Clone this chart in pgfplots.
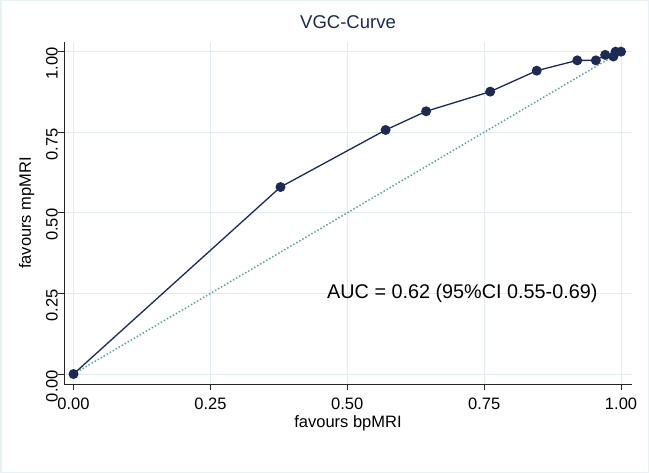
\documentclass[border=0pt]{standalone}
\usepackage{fontspec}
\setmainfont{Liberation Sans}
\usepackage{pgfplots}
\pgfplotsset{compat=1.18}
\definecolor{navyd}{RGB}{28,42,84}
\definecolor{gridc}{RGB}{226,236,240}
\definecolor{framec}{RGB}{232,241,244}
\definecolor{diagc}{RGB}{100,160,160}
\begin{document}
\begin{tikzpicture}
\useasboundingbox (0,0) rectangle (649bp,473bp);
\fill[white] (0,0) rectangle (649bp,473bp);
\draw[framec, line width=1.5bp] (0.75bp,0.75bp) rectangle (648.25bp,472.25bp);
\begin{axis}[
  at={(64bp,89bp)}, anchor=south west,
  scale only axis, width=568bp, height=342bp,
  xmin=-0.0174, xmax=1.020, ymin=-0.031, ymax=1.03,
  axis x line*=bottom, axis y line*=left,
  x axis line style={-, black!85, line width=0.9bp},
  y axis line style={-, black!85, line width=0.9bp},
  xtick={0,0.25,0.5,0.75,1}, ytick={0,0.25,0.5,0.75,1},
  xticklabels={0.00,0.25,0.50,0.75,1.00},
  yticklabels={0.00,0.25,0.50,0.75,1.00},
  tick align=outside, major tick length=6bp,
  tick style={black!85, line width=0.8bp},
  grid=major, grid style={gridc, line width=0.9bp},
  /pgf/number format/assume math mode=true,
  ticklabel style={font=\fontsize{16.5bp}{18bp}\selectfont, text=black},
  yticklabel style={rotate=90, anchor=south, inner sep=0pt, xshift=-12bp},
  xticklabel style={anchor=north, inner sep=0pt, yshift=-8bp},
  xlabel={favours bpMRI}, ylabel={favours mpMRI},
  label style={font=\fontsize{16.5bp}{18bp}\selectfont, text=black},
  xlabel style={at={(axis description cs:0.5,-0.116)}, anchor=center, inner sep=0pt},
  ylabel style={at={(axis description cs:-0.066,0.5)}, anchor=center, inner sep=0pt},
  title={VGC-Curve},
  title style={font=\fontsize{18.5bp}{20bp}\selectfont, text=navyd, at={(axis description cs:0.5,1.041)}, anchor=center, inner sep=0pt},
  clip=false,
]
\addplot[diagc, dotted, line width=1.5bp] coordinates {(0,0) (1,1)};
\addplot[navyd, line width=1.3bp, mark=*, mark size=4.3bp, mark options={fill=navyd, draw=navyd}] coordinates {
(0,0) (0.378,0.580) (0.570,0.757) (0.644,0.815) (0.761,0.876) (0.846,0.941)
(0.920,0.973) (0.954,0.973) (0.971,0.990) (0.986,0.985) (0.990,1.0) (1.0,1.0)
};
\node[anchor=west, inner sep=0pt, font=\fontsize{19.8bp}{21bp}\selectfont] at (axis cs:0.463,0.25) {AUC = 0.62 (95\%CI 0.55-0.69)};
\end{axis}
\end{tikzpicture}
\end{document}
